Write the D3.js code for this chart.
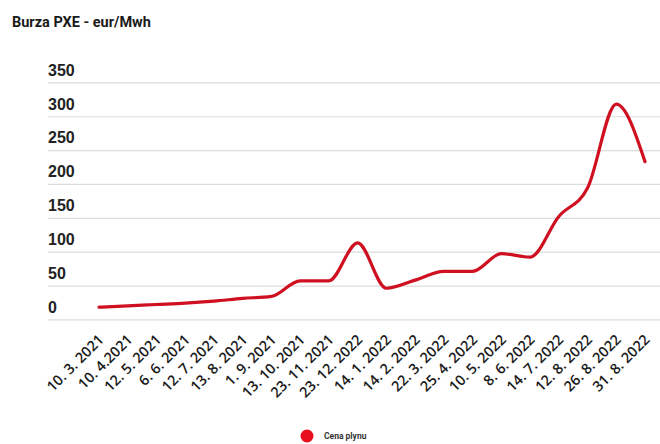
<!DOCTYPE html>
<html>
<head>
<meta charset="utf-8">
<script src="https://cdn.jsdelivr.net/npm/d3@7"></script>
<style>
  html, body { margin: 0; padding: 0; background: #fff; }
  svg { display: block; font-family: Roboto, "Noto Sans", Arial, sans-serif; }
</style>
</head>
<body>
<svg id="chart" width="660" height="444"></svg>
<script>
// Trading dates (as printed) and gas price on PXE in EUR/MWh
const dates = [
  "10. 3. 2021", "10. 4.2021", "12. 5. 2021", "6. 6. 2021", "12. 7. 2021",
  "13. 8. 2021", "1. 9. 2021", "13. 10. 2021", "23. 11. 2021", "23. 12. 2022",
  "14. 1. 2022", "14. 2. 2022", "22. 3. 2022", "25. 4. 2022", "10. 5. 2022",
  "8. 6. 2022", "14. 7. 2022", "12. 8. 2022", "26. 8. 2022", "31. 8. 2022"
];
const prices = [18, 20, 22, 24, 27, 31, 34, 57, 57, 113, 46, 58, 71, 71, 97, 92, 152, 194, 318, 233];
const yTicks = [0, 50, 100, 150, 200, 250, 300, 350];
const seriesName = "Cena plynu";
const title = "Burza PXE - eur/Mwh";

const svg = d3.select("#chart");
const red = "#cf1020";

const x = d3.scalePoint().domain(dates).range([99, 645]);
const y = d3.scaleLinear().domain([0, 350]).range([319.4, 82.4]);

svg.append("text")
  .attr("x", 12).attr("y", 27)
  .attr("font-size", 14.5).attr("font-weight", 700).attr("fill", "#1a1a1a")
  .text(title);

// Horizontal grid with labels sitting above each line
const yAxis = d3.axisLeft(y).tickValues(yTicks).tickSize(-612).tickPadding(0);
const gy = svg.append("g").attr("transform", "translate(48,0)").call(yAxis);
gy.select(".domain").remove();
gy.selectAll(".tick line").attr("stroke", "#dcdcdc").attr("stroke-width", 1.2);
gy.selectAll(".tick text")
  .attr("text-anchor", "start").attr("x", 0).attr("dy", "-0.45em")
  .attr("font-size", 16).attr("font-weight", 700).attr("fill", "#222");

// Category axis with rotated date labels
const xAxis = d3.axisBottom(x).tickSize(0).tickPadding(0);
const gx = svg.append("g").attr("transform", "translate(0,319.4)").call(xAxis);
gx.select(".domain").remove();
gx.selectAll(".tick text")
  .attr("text-anchor", "end")
  .attr("font-family", "'Open Sans', Roboto, sans-serif")
  .attr("font-size", 14.5).attr("font-weight", 600).attr("fill", "#1a1a1a")
  .attr("transform", "translate(-2,14) rotate(-45)")
  .attr("dy", "0.7em");

const line = d3.line()
  .x((d, i) => x(dates[i]))
  .y(d => y(d))
  .curve(d3.curveMonotoneX);

svg.append("path")
  .datum(prices)
  .attr("fill", "none")
  .attr("stroke", red)
  .attr("stroke-width", 3.2)
  .attr("stroke-linecap", "round")
  .attr("d", line);

// Legend
const lg = svg.append("g").attr("transform", "translate(307,436)");
lg.append("circle").attr("r", 6.5).attr("fill", "#e8101e");
lg.append("text").attr("x", 17).attr("y", 3)
  .attr("font-size", 8.5).attr("font-weight", 700).attr("fill", "#333")
  .text(seriesName);
</script>
</body>
</html>
